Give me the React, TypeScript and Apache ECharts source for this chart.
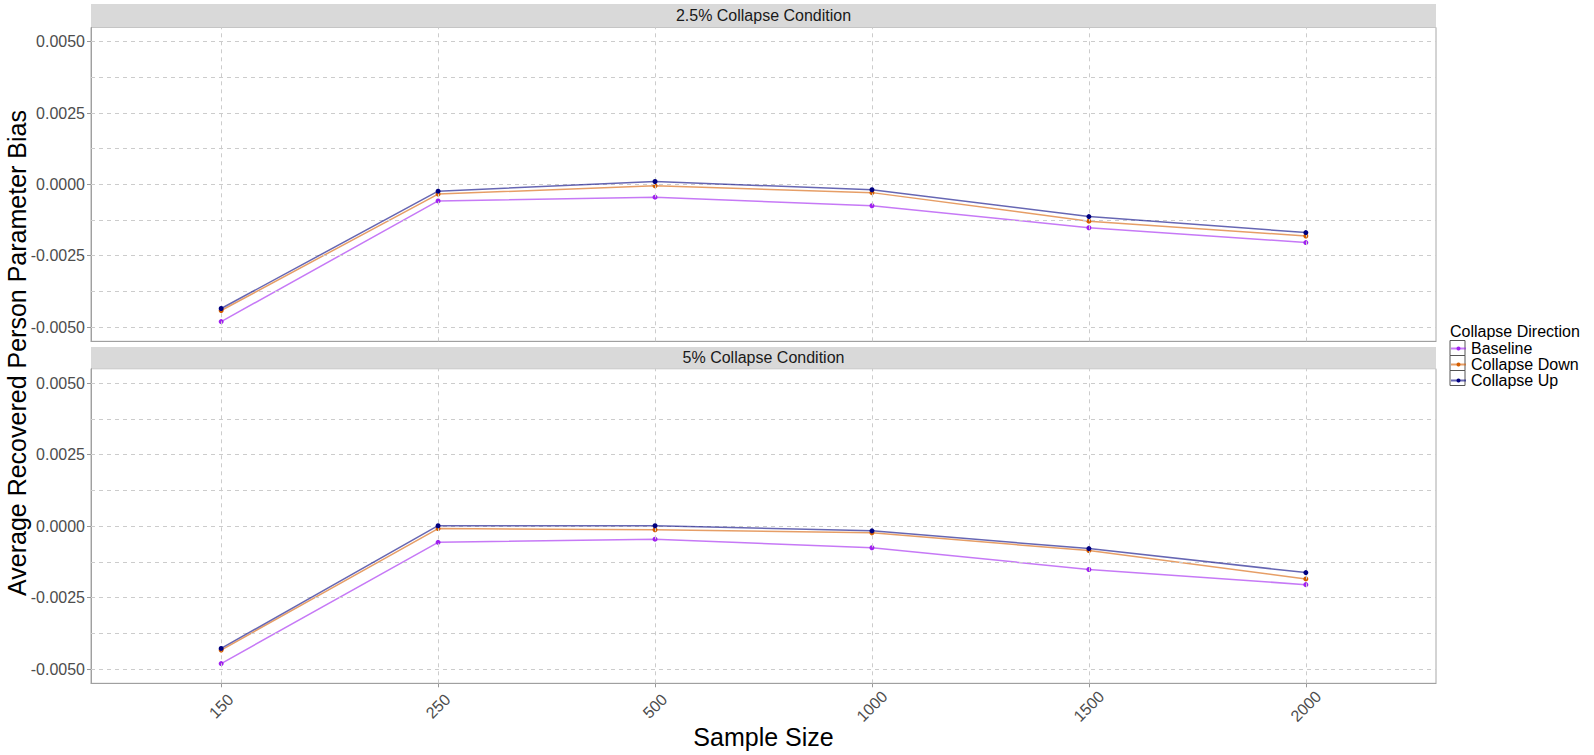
import React, { useEffect, useRef } from "react";
import * as echarts from "echarts";

const sampleSizes = ["150", "250", "500", "1000", "1500", "2000"];
const seriesNames = ["Baseline", "Collapse Down", "Collapse Up"];
const seriesColors = ["#A020F0", "#D55E00", "#000080"];
const panelTitles = ["2.5% Collapse Condition", "5% Collapse Condition"];

const baseline25 = [-0.00481, -0.00058, -0.00045, -0.00075, -0.00152, -0.00204];
const down25 = [-0.00442, -0.00034, -0.00005, -0.00029, -0.00129, -0.00181];
const up25 = [-0.00435, -0.00024, 0.0001, -0.00019, -0.00113, -0.00169];

const baseline5 = [-0.00481, -0.00057, -0.00046, -0.00076, -0.00152, -0.00205];
const down5 = [-0.00434, -0.00009, -0.00013, -0.00024, -0.00086, -0.00185];
const up5 = [-0.00428, 0.00001, 0.00001, -0.00017, -0.00079, -0.00163];

const yTicks = [-0.005, -0.0025, 0, 0.0025, 0.005];
const yMinor = [-0.00375, -0.00125, 0.00125, 0.00375];

const X_MIN = -0.6;
const X_MAX = 5.6;
const Y_MIN = -0.0055;
const Y_MAX = 0.0055;

const FONT = "'Liberation Sans', Arial, Helvetica, sans-serif";

export default function App() {
  const ref = useRef<HTMLDivElement>(null);

  useEffect(() => {
    document.body.style.margin = "0";
    const chart = echarts.init(ref.current!, undefined, { renderer: "svg" });

    const panels = [
      [baseline25, down25, up25],
      [baseline5, down5, up5],
    ];
    const idx = sampleSizes.map((_, i) => i);

    const L = 91;
    const W = 1345;
    const grids = [
      { top: 27.4, height: 313.9 },
      { top: 368.7, height: 314.6 },
    ];
    const strips = [
      { y: 4, h: 23.4 },
      { y: 347, h: 21.7 },
    ];

    const gridLine = { color: "#cccccc", width: 1, type: [4, 4] as any };

    const series: any[] = [];
    panels.forEach((panel, i) => {
      series.push({
        name: "grid" + i,
        type: "line",
        xAxisIndex: i,
        yAxisIndex: i,
        data: [],
        silent: true,
        z: 1,
        markLine: {
          silent: true,
          symbol: ["none", "none"],
          label: { show: false },
          emphasis: { disabled: true },
          animation: false,
          lineStyle: gridLine,
          data: [
            ...idx.map((x) => [{ coord: [x, Y_MIN] }, { coord: [x, Y_MAX] }]),
            ...[...yTicks, ...yMinor].map((y) => [
              { coord: [X_MIN, y] },
              { coord: [X_MAX, y] },
            ]),
          ],
        },
      });
      panel.forEach((vals, s) => {
        series.push({
          name: seriesNames[s],
          type: "line",
          xAxisIndex: i,
          yAxisIndex: i,
          data: vals.map((v, k) => [k, v]),
          symbol: "circle",
          symbolSize: 5,
          showSymbol: true,
          z: 3 + s,
          lineStyle: { width: 1.5, color: seriesColors[s], opacity: 0.6 },
          itemStyle: { color: seriesColors[s] },
          emphasis: { disabled: true },
        });
      });
    });

    const graphic: any[] = [];
    strips.forEach((st, i) => {
      graphic.push({
        type: "rect",
        shape: { x: L, y: st.y, width: W, height: st.h },
        style: { fill: "#d9d9d9", stroke: "none" },
        silent: true,
      });
      graphic.push({
        type: "text",
        x: L + W / 2,
        y: st.y + st.h / 2,
        style: {
          text: panelTitles[i],
          fontSize: 16,
          fontFamily: FONT,
          fill: "#1a1a1a",
          align: "center",
          verticalAlign: "middle",
        },
        silent: true,
      });
    });
    graphic.push({
      type: "text",
      x: L + W / 2,
      y: 737,
      style: {
        text: "Sample Size",
        fontSize: 25,
        fontFamily: FONT,
        fill: "#000",
        align: "center",
        verticalAlign: "middle",
      },
      silent: true,
    });
    graphic.push({
      type: "text",
      x: 17,
      y: 353,
      rotation: Math.PI / 2,
      style: {
        text: "Average Recovered Person Parameter Bias",
        fontSize: 25,
        fontFamily: FONT,
        fill: "#000",
        align: "center",
        verticalAlign: "middle",
      },
      silent: true,
    });
    graphic.push({
      type: "text",
      x: 1450,
      y: 331,
      style: {
        text: "Collapse Direction",
        fontSize: 16,
        fontFamily: FONT,
        fill: "#000",
        align: "left",
        verticalAlign: "middle",
      },
      silent: true,
    });
    seriesNames.forEach((_, k) => {
      graphic.push({
        type: "rect",
        shape: { x: 1450, y: 340.5 + 15 * k, width: 15, height: 15 },
        style: { fill: "#fff", stroke: "#555", lineWidth: 1 },
        silent: true,
      });
    });

    const option: any = {
      animation: false,
      backgroundColor: "#ffffff",
      textStyle: { fontFamily: FONT },
      grid: grids.map((g) => ({
        left: L,
        width: W,
        top: g.top,
        height: g.height,
        show: true,
        borderColor: "#a8a8a8",
        borderWidth: 1,
        backgroundColor: "transparent",
        containLabel: false,
      })),
      xAxis: grids.map((_, i) => ({
        type: "value",
        gridIndex: i,
        min: X_MIN,
        max: X_MAX,
        splitLine: { show: false },
        axisLine: { show: true, onZero: false, lineStyle: { color: "#a0a0a0", width: 1 } },
        axisTick: {
          show: i === 1,
          customValues: idx,
          length: 4,
          lineStyle: { color: "#999999" },
        },
        axisLabel: {
          show: i === 1,
          customValues: idx,
          formatter: (v: number) => sampleSizes[Math.round(v)] ?? "",
          rotate: 45,
          align: "center",
          verticalAlign: "middle",
          margin: 23,
          fontSize: 16,
          fontFamily: FONT,
          color: "#4d4d4d",
        },
      })),
      yAxis: grids.map((_, i) => ({
        type: "value",
        gridIndex: i,
        min: Y_MIN,
        max: Y_MAX,
        splitLine: { show: false },
        axisLine: { show: true, onZero: false, lineStyle: { color: "#a0a0a0", width: 1 } },
        axisTick: {
          show: true,
          customValues: yTicks,
          length: 4,
          lineStyle: { color: "#999999" },
        },
        axisLabel: {
          show: true,
          customValues: yTicks,
          formatter: (v: number) => (Math.abs(v) < 1e-12 ? "0.0000" : v.toFixed(4)),
          margin: 6,
          fontSize: 16,
          fontFamily: FONT,
          color: "#4d4d4d",
        },
      })),
      legend: {
        data: seriesNames,
        orient: "vertical",
        left: 1450,
        top: 340.5,
        itemWidth: 15,
        itemHeight: 5,
        itemGap: 0,
        padding: 0,
        selectedMode: false,
        textStyle: { fontSize: 16, fontFamily: FONT, color: "#000", lineHeight: 15 },
      },
      graphic,
      series,
    };

    chart.setOption(option);
    return () => chart.dispose();
  }, []);

  return <div ref={ref} style={{ width: 1594, height: 755 }} />;
}
